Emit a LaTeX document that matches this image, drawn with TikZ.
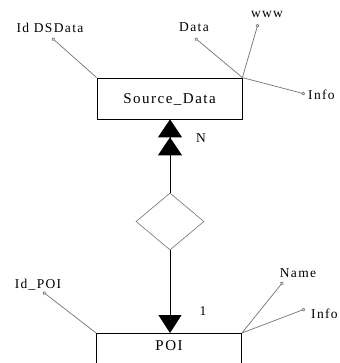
\documentclass[tikz,border=0pt]{standalone}
\usepackage{fontspec}
\setmainfont{Liberation Serif}
\newfontfamily\erfont[LetterSpace=10]{Liberation Serif}
\usetikzlibrary{calc}
\usetikzlibrary{positioning}
\usetikzlibrary{shapes.geometric}
\usetikzlibrary{arrows.meta}

\begin{document}
\begin{tikzpicture}[x=1pt, y=-1pt,
    entity/.style={rectangle, draw=black, line width=0.8pt, minimum width=145pt, font=\erfont\fontsize{15}{17}\selectfont},
    relship/.style={diamond, draw=black!55, line width=0.6pt, minimum width=68pt, minimum height=57pt, inner sep=0pt, aspect=1.2},
    attr/.style={draw=black!55, line width=0.7pt, -{Circle[open, length=3.5pt]}},
    lbl/.style={inner sep=0pt, anchor=base, font=\erfont\fontsize{13.5}{15}\selectfont}]
    \useasboundingbox (0, 0) rectangle (339, 363);
    % entities and relationship
    \node[entity, minimum height=41pt, text height=10pt, text depth=0pt] (source) at (169.5, 98.5) {Source\_Data};
    \node[relship] (rel) at (170, 221.5) {};
    \node[entity, anchor=north, inner ysep=7.5pt, text height=9.5pt, text depth=45pt] (poi) at (169, 333) {POI};
    \draw[line width=0.8pt, -{Triangle[width=24pt, length=18pt, sep=0pt] Triangle[width=24pt, length=18pt, sep=0pt]}] (rel.north) -- (rel.north |- source.south);
    \draw[line width=0.8pt, -{Triangle[width=23pt, length=18pt]}] (rel.south) -- (rel.south |- poi.north);
    \node[lbl] (card-n) at (201, 143) {N};
    \node[lbl] (card-1) at (203, 315) {1};
    % attributes of Source_Data
    \coordinate (dsid) at (52, 38);
    \coordinate (dsdata) at (195, 38);
    \coordinate (dswww) at (258, 24);
    \coordinate (dsinfo) at (305, 94);
    \node[lbl] (l-dsid) at (50, 33) {Id DSData};
    \node[lbl] (l-dsdata) at (194, 32) {Data};
    \node[lbl] (l-dswww) at (267, 18) {www};
    \node[lbl, anchor=base west] (l-dsinfo) at (308, 100) {Info};
    \draw[attr] (source.north west) -- (dsid);
    \draw[attr] (source.north east) -- (dsdata);
    \draw[attr] (source.north east) -- (dswww);
    \draw[attr] (source.north east) -- (dsinfo);
    % attributes of POI
    \coordinate (poiid) at (43, 292);
    \coordinate (poiname) at (283, 282);
    \coordinate (poiinfo) at (305, 309);
    \node[lbl] (l-poiid) at (38, 288) {Id\_POI};
    \node[lbl] (l-poiname) at (298, 277) {Name};
    \node[lbl, anchor=base west] (l-poiinfo) at (311, 318) {Info};
    \draw[attr] (poi.north west) -- (poiid);
    \draw[attr] (poi.north east) -- (poiname);
    \draw[attr] (poi.north east) -- (poiinfo);
\end{tikzpicture}
\end{document}
